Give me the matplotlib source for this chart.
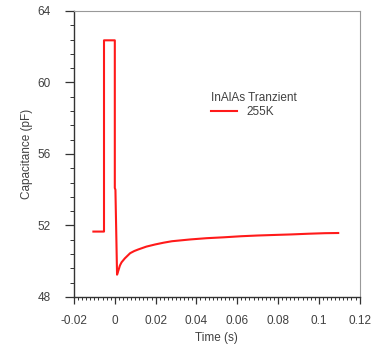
import matplotlib
matplotlib.use("Agg")
import matplotlib.pyplot as plt
from matplotlib.ticker import MultipleLocator

# Transient
time_s = [-0.0105, -0.0053, -0.0053, 0.0000, 0.0000, 0.0003, 0.0011, 0.0018,
          0.0025, 0.0033, 0.0049, 0.0075, 0.0095, 0.0115, 0.0155, 0.0198,
          0.0240, 0.0280, 0.0370, 0.0450, 0.0535, 0.0620, 0.0700, 0.0780,
          0.0864, 0.0950, 0.1030, 0.1095]
cap_pF = [51.66, 51.66, 62.36, 62.36, 54.10, 54.00, 49.25, 49.50,
          49.76, 49.94, 50.16, 50.45, 50.57, 50.66, 50.82, 50.94,
          51.04, 51.12, 51.22, 51.29, 51.34, 51.40, 51.44, 51.47,
          51.50, 51.54, 51.57, 51.58]

xticks = [-0.02, 0, 0.02, 0.04, 0.06, 0.08, 0.1, 0.12]
xlabels = ['-0.02', '0', '0.02', '0.04', '0.06', '0.08', '0.1', '0.12']
yticks = [48, 52, 56, 60, 64]

plt.rcParams['font.family'] = ['Liberation Sans', 'DejaVu Sans']
txt = '#404040'

fig = plt.figure(figsize=(3.78, 3.47), dpi=100)
ax = fig.add_axes([0.1958, 0.1441, 0.7556, 0.8242])

ax.plot(time_s, cap_pF, color='#ff1a1a', lw=1.5, label='255K')

ax.set_xlim(-0.02, 0.12)
ax.set_ylim(48, 64)
ax.set_xticks(xticks)
ax.set_xticklabels(xlabels)
ax.set_yticks(yticks)
ax.xaxis.set_minor_locator(MultipleLocator(0.002))
ax.yaxis.set_minor_locator(MultipleLocator(0.8))

ax.tick_params(which='both', direction='out', color='#333333', labelsize=8.5,
               labelcolor=txt)
ax.tick_params(axis='y', which='major', length=6.5, width=0.9, pad=10)
ax.tick_params(axis='y', which='minor', length=3, width=0.7)
ax.tick_params(axis='x', which='major', length=5, width=0.9, pad=8)
ax.tick_params(axis='x', which='minor', length=2.5, width=0.7)

for s in ['left', 'bottom']:
    ax.spines[s].set_color('#333333')
    ax.spines[s].set_linewidth(1.0)
for s in ['top', 'right']:
    ax.spines[s].set_color('#999999')
    ax.spines[s].set_linewidth(0.8)

ax.set_xlabel('Time (s)', fontsize=8.5, color=txt, labelpad=3.5)
ax.set_ylabel('Capacitance (pF)', fontsize=8.5, color=txt, labelpad=3.5)

leg = ax.legend(title='InAlAs Tranzient', loc='upper left',
                bbox_to_anchor=(0.481, 0.718), frameon=False, fontsize=8.5,
                title_fontsize=8.5, handlelength=2.2, handletextpad=0.8,
                alignment='left', borderpad=0, borderaxespad=0,
                labelspacing=0.2)
leg.get_title().set_color(txt)
for t in leg.get_texts():
    t.set_color(txt)

fig.savefig('out.png', dpi=100)
